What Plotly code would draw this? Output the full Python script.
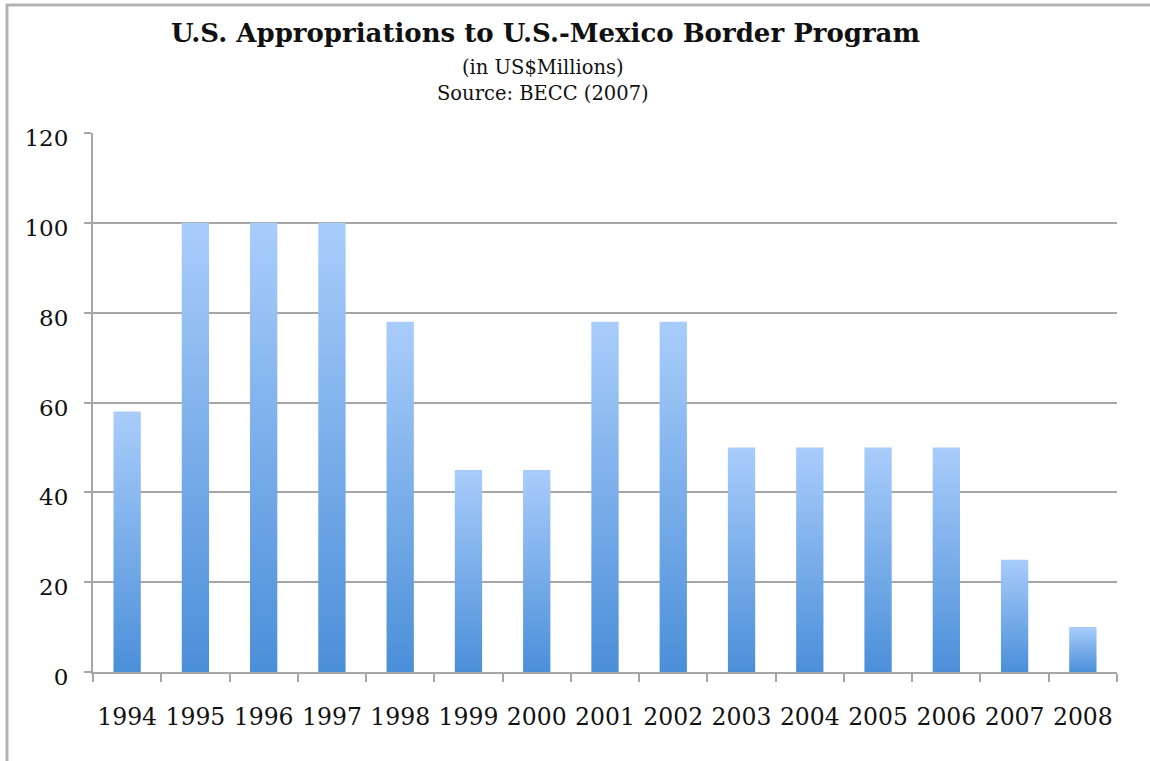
import plotly.graph_objects as go

years = ["1994", "1995", "1996", "1997", "1998", "1999", "2000", "2001",
         "2002", "2003", "2004", "2005", "2006", "2007", "2008"]
values = [58, 100, 100, 100, 78, 45, 45, 78, 78, 50, 50, 50, 50, 25, 10]
y_ticks = [0, 20, 40, 60, 80, 100, 120]

title_text = "U.S. Appropriations to U.S.-Mexico Border Program"
sub1 = "(in US$Millions)"
sub2 = "Source: BECC (2007)"

W, H = 1150, 761
ML, MR, MT, MB = 93, 33, 133, 89
PW, PH = W - ML - MR, H - MT - MB
BAR_W = 0.4
GRID = "#a6a6a6"

fig = go.Figure()
for i, v in enumerate(values):
    x0, x1 = i - BAR_W / 2, i + BAR_W / 2
    fig.add_trace(go.Scatter(
        x=[x0, x1, x1, x0, x0], y=[0, 0, v, v, 0],
        mode="lines", fill="toself", line=dict(width=0),
        fillgradient=dict(type="vertical",
                          colorscale=[[0, "#4b8fd9"], [1, "#a9cdfb"]]),
        hoverinfo="skip", showlegend=False))

def px_x(p):
    return (p - ML) / PW

def px_y(p):
    return (H - MB - p) / PH

fig.update_layout(
    width=W, height=H,
    margin=dict(l=ML, r=MR, t=MT, b=MB),
    paper_bgcolor="white", plot_bgcolor="white",
    showlegend=False,
    xaxis=dict(
        range=[-0.5, len(years) - 0.5],
        tickmode="array", tickvals=list(range(len(years))), ticktext=years,
        ticks="", showgrid=False, zeroline=False,
        showline=True, linecolor=GRID, linewidth=2,
        ticklabelstandoff=23,
        tickfont=dict(family="DejaVu Serif", size=23.5, color="#111111"),
        minor=dict(tick0=-0.5, dtick=1, ticks="outside", ticklen=8,
                   tickcolor=GRID, tickwidth=2, showgrid=False),
    ),
    yaxis=dict(
        range=[0, 120], tickmode="array", tickvals=y_ticks,
        ticks="outside", ticklen=7, tickcolor=GRID, tickwidth=2,
        showgrid=True, gridcolor=GRID, gridwidth=2, zeroline=False,
        showline=True, linecolor=GRID, linewidth=2,
        ticklabelstandoff=11, ticklabelshift=5,
        tickfont=dict(family="DejaVu Serif", size=23, color="#111111"),
    ),
    shapes=[
        dict(type="line", xref="paper", yref="paper",
             x0=px_x(6), x1=px_x(W), y0=px_y(5), y1=px_y(5),
             line=dict(color="#b3b3b3", width=3)),
        dict(type="line", xref="paper", yref="paper",
             x0=px_x(7), x1=px_x(7), y0=px_y(4), y1=px_y(H),
             line=dict(color="#b3b3b3", width=3)),
    ],
    annotations=[
        dict(text="<b>" + title_text + "</b>", xref="paper", yref="paper",
             x=px_x(545), y=px_y(33), xanchor="center", yanchor="middle",
             showarrow=False,
             font=dict(family="DejaVu Serif", size=26, color="#111111")),
        dict(text=sub1, xref="paper", yref="paper",
             x=px_x(543), y=px_y(67), xanchor="center", yanchor="middle",
             showarrow=False,
             font=dict(family="DejaVu Serif", size=19.5, color="#111111")),
        dict(text=sub2, xref="paper", yref="paper",
             x=px_x(543), y=px_y(93), xanchor="center", yanchor="middle",
             showarrow=False,
             font=dict(family="DejaVu Serif", size=19.5, color="#111111")),
    ],
)

fig.write_html("out.html", config={"displayModeBar": False},
               post_script="document.body.style.margin='0';")
